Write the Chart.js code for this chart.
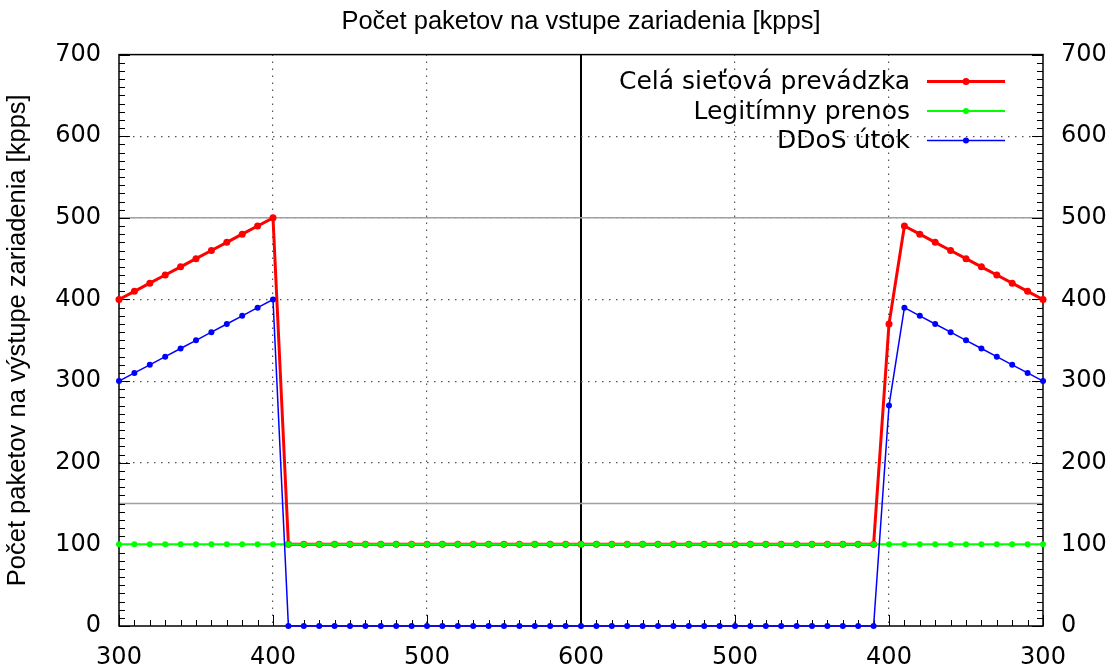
<!DOCTYPE html>
<html>
<head>
<meta charset="utf-8">
<script src="https://cdn.jsdelivr.net/npm/chart.js@4"></script>
<style>
  html, body { margin: 0; padding: 0; background: #fff; }
  canvas { display: block; }
</style>
</head>
<body>
<canvas id="chart" width="1110" height="666"></canvas>
<script>
// x positions (step 10) and the labels printed under every 100
const time = [0, 10, 20, 30, 40, 50, 60, 70, 80, 90,
  100, 110, 120, 130, 140, 150, 160, 170, 180, 190,
  200, 210, 220, 230, 240, 250, 260, 270, 280, 290,
  300, 310, 320, 330, 340, 350, 360, 370, 380, 390,
  400, 410, 420, 430, 440, 450, 460, 470, 480, 490,
  500, 510, 520, 530, 540, 550, 560, 570, 580, 590, 600];
const xTickLabels = ["300", "400", "500", "600", "500", "400", "300"];

const totalTraffic = [400, 410, 420, 430, 440, 450, 460, 470, 480, 490, 500,
  100, 100, 100, 100, 100, 100, 100, 100, 100, 100,
  100, 100, 100, 100, 100, 100, 100, 100, 100, 100,
  100, 100, 100, 100, 100, 100, 100, 100, 100, 100,
  100, 100, 100, 100, 100, 100, 100, 100, 100,
  370, 490, 480, 470, 460, 450, 440, 430, 420, 410, 400];
const legitTraffic = [100, 100, 100, 100, 100, 100, 100, 100, 100, 100, 100,
  100, 100, 100, 100, 100, 100, 100, 100, 100, 100,
  100, 100, 100, 100, 100, 100, 100, 100, 100, 100,
  100, 100, 100, 100, 100, 100, 100, 100, 100, 100,
  100, 100, 100, 100, 100, 100, 100, 100, 100,
  100, 100, 100, 100, 100, 100, 100, 100, 100, 100, 100];
const ddosTraffic = [300, 310, 320, 330, 340, 350, 360, 370, 380, 390, 400,
  0, 0, 0, 0, 0, 0, 0, 0, 0, 0,
  0, 0, 0, 0, 0, 0, 0, 0, 0, 0,
  0, 0, 0, 0, 0, 0, 0, 0, 0, 0,
  0, 0, 0, 0, 0, 0, 0, 0, 0,
  270, 390, 380, 370, 360, 350, 340, 330, 320, 310, 300];

const thresholds = [500, 150];
const markerX = 300;

const tickFont = { family: "'DejaVu Sans'", size: 24 };
const textFont = { family: "'Liberation Sans'", size: 25.5, weight: "normal" };

function align(v) { return Math.round(v) + 0.5; }

// gnuplot-like frame: inner ticks, threshold lines, box
const framePlugin = {
  id: "frame",
  beforeDatasetsDraw(chart) {
    const { ctx, chartArea: a, scales: { x, y } } = chart;
    ctx.save();
    ctx.strokeStyle = "#a0a0a0";
    ctx.lineWidth = 1.5;
    thresholds.forEach(v => {
      const py = y.getPixelForValue(v);
      ctx.beginPath(); ctx.moveTo(a.left, py); ctx.lineTo(a.right, py); ctx.stroke();
    });

    ctx.strokeStyle = "#000";
    ctx.lineWidth = 1;
    ctx.beginPath();
    for (let v = y.min; v <= y.max; v += 10) {
      const py = align(y.getPixelForValue(v));
      const len = v % 100 === 0 ? 11 : 6;
      ctx.moveTo(a.left, py); ctx.lineTo(a.left + len, py);
      ctx.moveTo(a.right, py); ctx.lineTo(a.right - len, py);
    }
    for (let v = x.min; v <= x.max; v += 10) {
      const px = align(x.getPixelForValue(v));
      const len = v % 100 === 0 ? 11 : 6;
      ctx.moveTo(px, a.bottom); ctx.lineTo(px, a.bottom - len);
    }
    ctx.stroke();

    ctx.lineWidth = 1.5;
    ctx.strokeRect(a.left, a.top, a.width, a.height);
    ctx.restore();
  }
};

// legend inside the plot, text on the left and line sample on the right
const legendPlugin = {
  id: "insideLegend",
  afterDatasetsDraw(chart) {
    const { ctx, chartArea: a } = chart;
    ctx.save();
    ctx.font = "25px 'DejaVu Sans'";
    ctx.textAlign = "right";
    ctx.textBaseline = "middle";
    chart.data.datasets.forEach((ds, i) => {
      const yy = a.top + 27 + i * 29.5;
      ctx.fillStyle = "#000";
      ctx.fillText(ds.label, a.right - 133, yy + 1);
      ctx.strokeStyle = ds.borderColor;
      ctx.lineWidth = ds.borderWidth;
      ctx.beginPath(); ctx.moveTo(a.right - 116, yy); ctx.lineTo(a.right - 38, yy); ctx.stroke();
      ctx.fillStyle = ds.pointBackgroundColor;
      ctx.beginPath(); ctx.arc(a.right - 77, yy, ds.pointRadius, 0, Math.PI * 2); ctx.fill();
    });
    ctx.restore();
  }
};

const chartCtx = document.getElementById("chart").getContext("2d");

const chart = new Chart(chartCtx, {
  type: "line",
  data: {
    labels: time,
    datasets: [{
      label: "Celá sieťová prevádzka",
      data: totalTraffic,
      borderColor: "#ff0000",
      backgroundColor: "#ff0000",
      pointBackgroundColor: "#ff0000",
      borderWidth: 3,
      pointRadius: 3.5,
      pointBorderWidth: 0,
      order: 2
    }, {
      label: "Legitímny prenos",
      data: legitTraffic,
      borderColor: "#00ff00",
      backgroundColor: "#00ff00",
      pointBackgroundColor: "#00ff00",
      borderWidth: 2,
      pointRadius: 3,
      pointBorderWidth: 0,
      order: 1
    }, {
      label: "DDoS útok",
      data: ddosTraffic,
      borderColor: "#0000ff",
      backgroundColor: "#0000ff",
      pointBackgroundColor: "#0000ff",
      borderWidth: 1.5,
      pointRadius: 3,
      pointBorderWidth: 0,
      order: 0
    }]
  },
  options: {
    responsive: false,
    animation: false,
    clip: false,
    tension: 0,
    layout: { padding: 0 },
    plugins: {
      legend: { display: false },
      tooltip: { enabled: false },
      title: {
        display: true,
        fullSize: false,
        text: "Počet paketov na vstupe zariadenia [kpps]",
        color: "#000",
        font: textFont,
        padding: { top: 7, bottom: 17 }
      }
    },
    scales: {
      x: {
        type: "linear",
        min: 0,
        max: 600,
        afterFit: s => { s.height = 40; },
        ticks: {
          stepSize: 100,
          maxRotation: 0,
          autoSkip: false,
          color: "#000",
          font: tickFont,
          padding: 17,
          callback: v => xTickLabels[v / 100]
        },
        grid: {
          drawTicks: false,
          color: c => {
            const v = c.tick ? c.tick.value : -1;
            if (v === markerX) return "#000";
            if (v <= 0 || v >= 600) return "rgba(0,0,0,0)";
            return "#555";
          },
          lineWidth: c => (c.tick && c.tick.value === markerX ? 2 : 1.2)
        },
        border: {
          display: false,
          dash: c => (c.tick && c.tick.value === markerX ? [] : [1.5, 5.5])
        }
      },
      y: {
        position: "left",
        min: 0,
        max: 700,
        afterFit: s => { s.width = 119; },
        ticks: { stepSize: 100, color: "#000", font: tickFont, padding: 18 },
        title: {
          display: true,
          text: "Počet paketov na výstupe zariadenia [kpps]",
          color: "#000",
          font: textFont,
          padding: { top: 3, bottom: 0 }
        },
        grid: {
          drawTicks: false,
          color: c => {
            const v = c.tick ? c.tick.value : -1;
            return v <= 0 || v >= 700 ? "rgba(0,0,0,0)" : "#555";
          },
          lineWidth: 1.2
        },
        border: { display: false, dash: [1.5, 5.5] }
      },
      y2: {
        position: "right",
        min: 0,
        max: 700,
        afterFit: s => { s.width = 67; },
        ticks: { stepSize: 100, color: "#000", font: tickFont, padding: 18 },
        grid: { drawOnChartArea: false, drawTicks: false },
        border: { display: false }
      }
    }
  },
  plugins: [framePlugin, legendPlugin]
});
</script>
</body>
</html>
